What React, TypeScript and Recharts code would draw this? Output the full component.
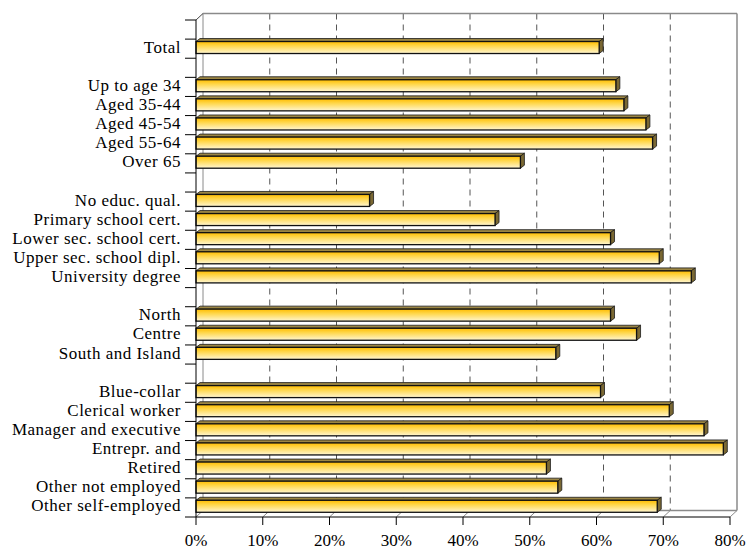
import React from 'react';
import { BarChart, Bar, XAxis, YAxis } from 'recharts';

// Share (%) per respondent group, top to bottom
const totalLabels = ['Total'];
const totalValues = [60.4];

const ageLabels = ['Up to age 34', 'Aged 35-44', 'Aged 45-54', 'Aged 55-64', 'Over 65'];
const ageValues = [62.9, 64.1, 67.4, 68.4, 48.6];

const eduLabels = [
  'No educ. qual.',
  'Primary school cert.',
  'Lower sec. school cert.',
  'Upper sec. school dipl.',
  'University degree',
];
const eduValues = [26.0, 44.8, 62.1, 69.4, 74.2];

const areaLabels = ['North', 'Centre', 'South and Island'];
const areaValues = [62.1, 66.0, 53.9];

const jobLabels = [
  'Blue-collar',
  'Clerical worker',
  'Manager and executive',
  'Entrepr. and',
  'Retired',
  'Other not employed',
  'Other self-employed',
];
const jobValues = [60.6, 70.9, 76.1, 79.0, 52.5, 54.2, 69.1];

const xTicks = [0, 10, 20, 30, 40, 50, 60, 70, 80];

// each group is preceded by an empty row on the category axis
const groups: [string[], number[]][] = [
  [totalLabels, totalValues],
  [ageLabels, ageValues],
  [eduLabels, eduValues],
  [areaLabels, areaValues],
  [jobLabels, jobValues],
];
const rows: { name: string; value: number | null }[] = [];
groups.forEach(([labels, values]) => {
  rows.push({ name: '', value: null });
  labels.forEach((name, i) => rows.push({ name, value: values[i] }));
});

const WIDTH = 746;
const HEIGHT = 549;
const MARGIN = { top: 20, right: 16, bottom: 0, left: 6 };
const Y_AXIS_W = 190;
const X_AXIS_H = 32;

const PLOT_L = MARGIN.left + Y_AXIS_W;
const PLOT_R = WIDTH - MARGIN.right;
const PLOT_T = MARGIN.top;
const PLOT_B = HEIGHT - MARGIN.bottom - X_AXIS_H;
const BAND = (PLOT_B - PLOT_T) / rows.length;

// wall depth offset and bar depth offset
const DX = 7;
const DY = 6.5;
const BDX = 4;
const BDY = 3;

const FONT = "'Liberation Serif', 'DejaVu Serif', serif";
const EDGE = '#8a8a8a';

const xAt = (v: number) => PLOT_L + ((PLOT_R - PLOT_L) * v) / xTicks[xTicks.length - 1];

// back wall, floor and dashed gridlines behind the bars
const Frame = () => {
  const bl = PLOT_L + DX;
  const br = PLOT_R + DX;
  const bt = PLOT_T - DY;
  const bb = PLOT_B - DY;
  return (
    <g>
      <defs>
        <linearGradient id="barFace" x1="0" y1="0" x2="0" y2="1">
          <stop offset="0%" stopColor="#ffbc00" />
          <stop offset="35%" stopColor="#ffd648" />
          <stop offset="100%" stopColor="#fff6d2" />
        </linearGradient>
      </defs>
      {xTicks.slice(1, -1).map((t) => (
        <line
          key={`g${t}`}
          x1={xAt(t) + DX}
          x2={xAt(t) + DX}
          y1={bt}
          y2={bb}
          stroke="#555"
          strokeDasharray="6 5"
        />
      ))}
      {xTicks.map((t) => (
        <line
          key={`f${t}`}
          x1={xAt(t)}
          y1={PLOT_B}
          x2={xAt(t) + DX}
          y2={bb}
          stroke={EDGE}
        />
      ))}
      <line x1={bl} y1={bt} x2={br} y2={bt} stroke={EDGE} strokeWidth={1.5} />
      <line x1={br} y1={bt} x2={br} y2={bb} stroke={EDGE} strokeWidth={1.5} />
      <line x1={bl} y1={bt} x2={bl} y2={bb} stroke={EDGE} />
      <line x1={bl} y1={bb} x2={br} y2={bb} stroke={EDGE} strokeWidth={1.5} />
      <line x1={PLOT_L} y1={PLOT_T} x2={bl} y2={bt} stroke="#444" />
    </g>
  );
};

const Bar3D = (props: any) => {
  const { x, y, width, payload } = props;
  if (payload == null || payload.value == null || !(width > 0)) return <g />;
  const h = 12;
  const top = y - 1.6;
  const right = x + width;
  return (
    <g>
      <polygon
        points={`${x},${top} ${x + BDX},${top - BDY} ${right + BDX},${top - BDY} ${right},${top}`}
        fill="#9c8643"
        stroke="#1a1a1a"
        strokeWidth={0.8}
      />
      <polygon
        points={`${right},${top} ${right + BDX},${top - BDY} ${right + BDX},${top + h - BDY} ${right},${top + h}`}
        fill="#7a6833"
        stroke="#1a1a1a"
        strokeWidth={0.8}
      />
      <rect x={x} y={top} width={width} height={h} fill="url(#barFace)" stroke="#111" strokeWidth={1.3} />
    </g>
  );
};

const CategoryTick = (props: any) => {
  const { x, y, payload, index } = props;
  const lx = x + 4;
  return (
    <g>
      <line x1={lx} x2={lx + 11} y1={y - BAND / 2} y2={y - BAND / 2} stroke="#000" />
      {index === rows.length - 1 && (
        <line x1={lx} x2={lx + 11} y1={y + BAND / 2} y2={y + BAND / 2} stroke="#000" />
      )}
      <text
        x={x}
        y={y - 2}
        dy="0.355em"
        textAnchor="end"
        fontFamily={FONT}
        style={{ fontFamily: FONT, fontSize: 17, letterSpacing: 0.5 }}
        fill="#000"
      >
        {payload.value}
      </text>
    </g>
  );
};

const ValueTick = (props: any) => {
  const { x, y, payload } = props;
  return (
    <text
      x={x}
      y={y}
      dy="0.71em"
      textAnchor="middle"
      fontFamily={FONT}
      style={{ fontFamily: FONT, fontSize: 17 }}
      fill="#000"
    >
      {`${payload.value}%`}
    </text>
  );
};

export default function App() {
  return (
    <div style={{ width: WIDTH, height: HEIGHT, background: '#fff', fontFamily: FONT }}>
      <style>{'body{margin:0}'}</style>
      <BarChart width={WIDTH} height={HEIGHT} data={rows} layout="vertical" margin={MARGIN}>
        <Frame />
        <XAxis
          type="number"
          domain={[0, 80]}
          ticks={xTicks}
          height={X_AXIS_H}
          tickSize={8}
          tickMargin={9}
          axisLine={{ stroke: '#000' }}
          tickLine={{ stroke: '#000' }}
          tick={(p: any) => <ValueTick {...p} />}
        />
        <YAxis
          type="category"
          dataKey="name"
          width={Y_AXIS_W}
          interval={0}
          tickSize={11}
          tickMargin={4}
          tickLine={false}
          axisLine={{ stroke: '#000' }}
          tick={(p: any) => <CategoryTick {...p} />}
        />
        <Bar dataKey="value" barSize={12} isAnimationActive={false} shape={Bar3D} />
      </BarChart>
    </div>
  );
}
